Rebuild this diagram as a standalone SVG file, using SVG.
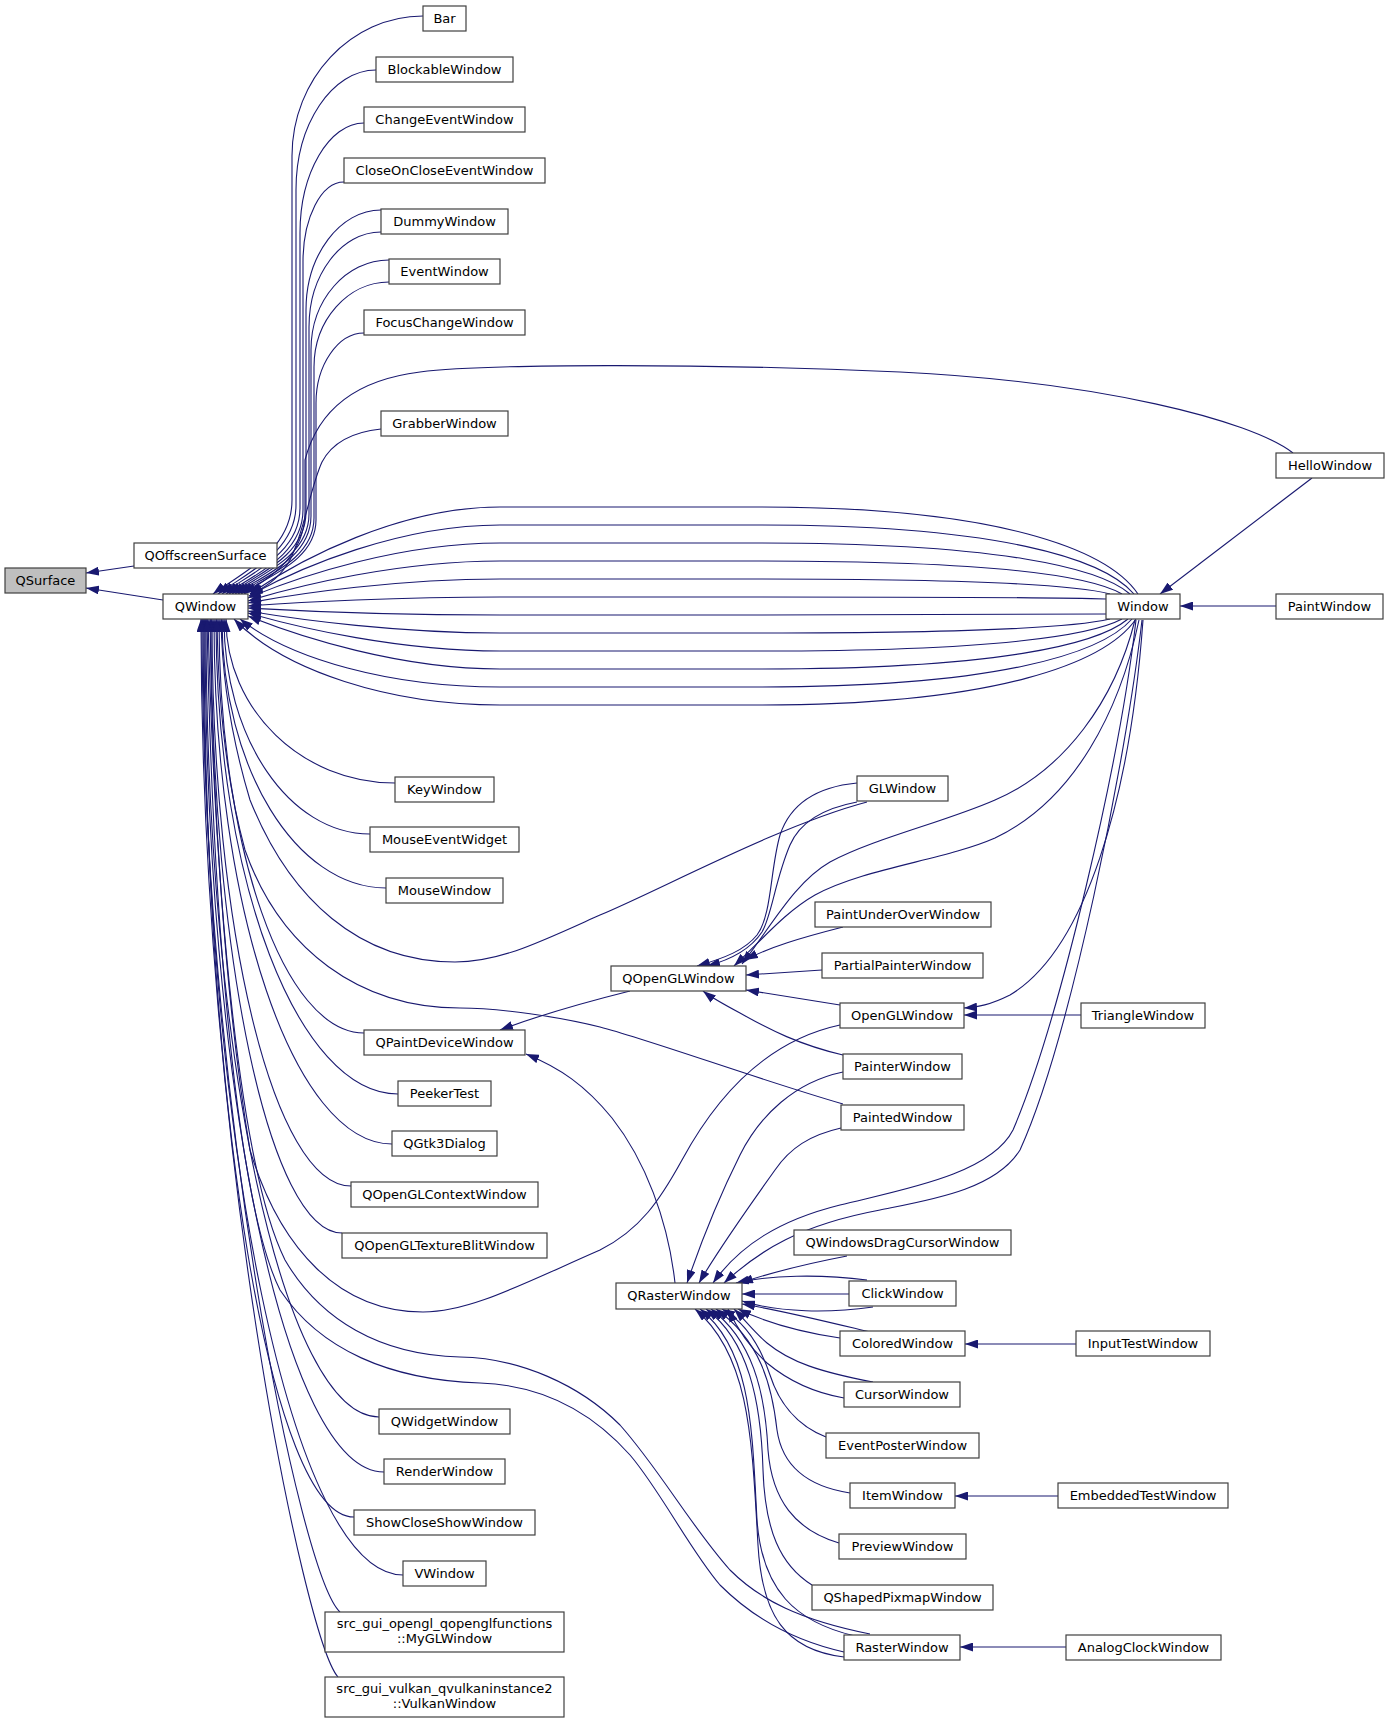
<svg xmlns="http://www.w3.org/2000/svg" width="1389" height="1723" viewBox="0 0 1389 1723">
<defs>
<marker id="a" markerUnits="userSpaceOnUse" markerWidth="13" markerHeight="9" refX="13" refY="4.5" orient="auto" viewBox="0 0 13 9"><path d="M0,0 L13,4.5 L0,9 z" fill="#191970"/></marker>
<style>
.n rect{fill:#ffffff;stroke:#404040;stroke-width:1.2}
.n text{font-family:"DejaVu Sans","Noto Sans",sans-serif;font-size:13px;text-anchor:middle;fill:#000}
#edges path{fill:none;stroke:#191970;stroke-width:1.1;marker-end:url(#a)}
</style>
</defs>
<rect width="1389" height="1723" fill="#ffffff"/>
<g id="edges">
<path d="M134,566 L86,573"/>
<path d="M163,600 L86,588"/>
<path d="M423,16 C351,16 292,79 292,156 L292,500 C292,552 238,575 213,594"/>
<path d="M376,70 C332,70 296,124 296,190 L296,505 C296,553 243,575 218,594"/>
<path d="M364,123 C329,123 300,173 300,233 L300,508 C300,555 247,575 222,594"/>
<path d="M344,182 C321,182 303,218 303,262 L303,510 C303,556 251,576 226,594"/>
<path d="M381,210 C340,210 306,255 306,310 L306,512 C306,557 254,576 229,594"/>
<path d="M381,232 C341,232 309,275 309,327 L309,514 C309,558 257,576 232,594"/>
<path d="M389,260 C346,260 311,300 311,350 L311,516 C311,559 260,577 235,594"/>
<path d="M389,282 C348,282 314,320 314,367 L314,518 C314,560 263,577 238,594"/>
<path d="M364,333 C338,333 316,365 316,403 L316,520 C316,561 266,577 241,594"/>
<path d="M1293,453 C1250,420 1100,382 900,372 C700,363 480,364 420,372 C355,380 318,410 305,460 L305,512 C305,557 269,578 244,594"/>
<path d="M381,429 C352,432 332,443 322,462 C310,488 305,530 290,560 C280,578 265,588 250,594"/>
<path d="M1138,594 C1108,550 1000,507 760,507 L500,507 C400,507 300,559 250,594"/>
<path d="M1134,594 C1104,559 1000,525 760,525 L500,525 C400,525 300,567 249,596"/>
<path d="M1130,594 C1100,568 1000,543 760,543 L500,543 C400,543 300,576 248,598"/>
<path d="M1122,594 C1092,577 1000,561 760,561 L500,561 C400,561 300,585 248,601"/>
<path d="M1110,594 C1080,586 1000,579 760,579 L500,579 C400,579 300,593 248,603"/>
<path d="M1106,599 C1076,598 1000,597 760,597 L500,597 C400,597 300,602 248,606"/>
<path d="M1106,614 C1076,614 1000,615 760,615 L500,615 C400,615 300,611 248,608"/>
<path d="M1110,619 C1080,626 1000,633 760,633 L500,633 C400,633 300,620 248,611"/>
<path d="M1122,619 C1092,635 1000,651 760,651 L500,651 C400,651 300,628 248,613"/>
<path d="M1128,619 C1098,644 1000,669 760,669 L500,669 C400,669 300,637 248,616"/>
<path d="M1132,619 C1102,653 1000,687 760,687 L500,687 C390,687 290,659 240,619"/>
<path d="M1136,619 C1106,662 1000,705 760,705 L500,705 C390,705 284,671 234,619"/>
<path d="M395,783 C302,783 226,710 226,619"/>
<path d="M370,834 C289,834 224,738 224,619"/>
<path d="M386,888 C296,888 222,768 222,619"/>
<path d="M364,1033 C284,1033 219,848 219,619"/>
<path d="M398,1094 C298,1094 216,881 216,619"/>
<path d="M392,1144 C294,1144 214,909 214,619"/>
<path d="M351,1186 C274,1186 212,932 212,619"/>
<path d="M342,1233 C270,1233 211,958 211,619"/>
<path d="M379,1417 C284,1417 206,1060 206,619"/>
<path d="M384,1472 C285,1472 205,1090 205,619"/>
<path d="M354,1517 C271,1517 204,1115 204,619"/>
<path d="M403,1575 C293,1575 203,1147 203,619"/>
<path d="M340,1612 C300,1575 202,1100 202,619"/>
<path d="M338,1677 C305,1640 201,1150 201,619"/>
<path d="M867,802 C780,825 660,890 600,915 C540,942 500,962 455,962 C360,962 290,900 250,800 C232,740 222,680 221,619"/>
<path d="M843,1104 C760,1080 650,1040 600,1027 C560,1017 500,1008 460,1008 C360,1008 280,950 245,850 C226,780 218,700 217,619"/>
<path d="M840,1025 C770,1040 720,1090 682,1160 C660,1200 640,1230 600,1250 C520,1285 470,1312 423,1312 C340,1312 280,1250 250,1150 C225,1000 212,800 210,619"/>
<path d="M870,1634 C800,1620 760,1600 730,1570 C690,1525 660,1470 620,1425 C580,1385 520,1358 460,1357 C380,1355 320,1320 285,1260 C240,1170 215,900 208,619"/>
<path d="M844,1652 C790,1640 750,1615 720,1585 C690,1550 660,1490 630,1455 C590,1410 540,1385 480,1383 C390,1380 320,1350 280,1290 C235,1200 212,900 207,619"/>
<path d="M630,991 C590,1001 540,1015 500,1030"/>
<path d="M675,1283 C668,1220 645,1160 612,1118 C585,1085 560,1068 526,1054"/>
<path d="M857,783 C815,787 790,805 780,835 C770,870 772,915 757,935 C745,950 725,958 697,966"/>
<path d="M857,802 C825,808 800,822 790,845 C775,880 772,915 762,932 C750,950 730,960 707,966"/>
<path d="M1135,620 C1115,700 1065,770 995,800 C945,822 875,838 830,862 C795,882 772,925 742,964"/>
<path d="M1139,620 C1120,710 1075,800 995,838 C945,860 865,868 815,895 C785,912 762,940 734,966"/>
<path d="M843,927 C800,938 770,947 745,960"/>
<path d="M822,970 L746,975"/>
<path d="M840,1005 L746,990"/>
<path d="M843,1055 C800,1045 770,1030 740,1013 C725,1005 712,998 703,991"/>
<path d="M1081,1015 L964,1015"/>
<path d="M1143,620 C1130,800 1085,950 1010,995 C990,1005 978,1007 964,1008"/>
<path d="M1312,478 L1160,594"/>
<path d="M1276,606 L1180,606"/>
<path d="M1136,620 C1120,760 1060,1020 1013,1130 C990,1175 900,1190 840,1205 C780,1220 740,1245 713,1283"/>
<path d="M1142,620 C1126,760 1070,1040 1020,1150 C995,1190 930,1200 880,1210 C800,1225 760,1250 724,1283"/>
<path d="M843,1072 C795,1082 760,1115 740,1155 C720,1195 700,1245 687,1283"/>
<path d="M841,1128 C810,1135 790,1148 775,1170 C745,1212 718,1250 699,1283"/>
<path d="M847,1256 C800,1265 770,1273 740,1283"/>
<path d="M867,1280 C820,1274 770,1275 736,1283"/>
<path d="M849,1294 L742,1294"/>
<path d="M873,1307 C830,1313 780,1313 742,1301"/>
<path d="M870,1332 C820,1320 780,1310 742,1304"/>
<path d="M840,1338 C800,1332 765,1322 738,1309"/>
<path d="M873,1382 C820,1372 790,1362 767,1343 C755,1333 745,1320 734,1309"/>
<path d="M844,1398 C810,1392 785,1378 767,1363 C750,1348 738,1330 728,1309"/>
<path d="M826,1437 C795,1425 778,1400 770,1375 C760,1345 745,1322 722,1309"/>
<path d="M850,1493 C805,1486 782,1465 777,1430 C772,1385 760,1340 716,1309"/>
<path d="M839,1543 C795,1530 772,1500 768,1450 C765,1390 752,1340 711,1309"/>
<path d="M812,1585 C780,1565 765,1530 763,1470 C761,1400 748,1340 706,1309"/>
<path d="M855,1636 C795,1622 762,1590 757,1520 C752,1430 752,1350 700,1309"/>
<path d="M844,1657 C785,1650 762,1615 758,1545 C752,1440 750,1355 695,1309"/>
<path d="M1076,1344 L965,1344"/>
<path d="M1058,1496 L955,1496"/>
<path d="M1066,1647 L960,1647"/>
</g>
<g id="n_QSurface" class="n"><rect x="5" y="568" width="81" height="25" style="fill:#bfbfbf"/><text x="45.5" y="585">QSurface</text></g>
<g id="n_QOffscreenSurface" class="n"><rect x="134" y="543" width="143" height="25"/><text x="205.5" y="560">QOffscreenSurface</text></g>
<g id="n_QWindow" class="n"><rect x="163" y="594" width="85" height="25"/><text x="205.5" y="611">QWindow</text></g>
<g id="n_Bar" class="n"><rect x="423" y="6" width="43" height="25"/><text x="444.5" y="23">Bar</text></g>
<g id="n_BlockableWindow" class="n"><rect x="376" y="57" width="137" height="25"/><text x="444.5" y="74">BlockableWindow</text></g>
<g id="n_ChangeEventWindow" class="n"><rect x="364" y="107" width="161" height="25"/><text x="444.5" y="124">ChangeEventWindow</text></g>
<g id="n_CloseOnCloseEventWindow" class="n"><rect x="344" y="158" width="201" height="25"/><text x="444.5" y="175">CloseOnCloseEventWindow</text></g>
<g id="n_DummyWindow" class="n"><rect x="381" y="209" width="127" height="25"/><text x="444.5" y="226">DummyWindow</text></g>
<g id="n_EventWindow" class="n"><rect x="389" y="259" width="111" height="25"/><text x="444.5" y="276">EventWindow</text></g>
<g id="n_FocusChangeWindow" class="n"><rect x="364" y="310" width="161" height="25"/><text x="444.5" y="327">FocusChangeWindow</text></g>
<g id="n_GrabberWindow" class="n"><rect x="381" y="411" width="127" height="25"/><text x="444.5" y="428">GrabberWindow</text></g>
<g id="n_KeyWindow" class="n"><rect x="395" y="777" width="99" height="25"/><text x="444.5" y="794">KeyWindow</text></g>
<g id="n_MouseEventWidget" class="n"><rect x="370" y="827" width="149" height="25"/><text x="444.5" y="844">MouseEventWidget</text></g>
<g id="n_MouseWindow" class="n"><rect x="386" y="878" width="117" height="25"/><text x="444.5" y="895">MouseWindow</text></g>
<g id="n_QPaintDeviceWindow" class="n"><rect x="364" y="1030" width="161" height="25"/><text x="444.5" y="1047">QPaintDeviceWindow</text></g>
<g id="n_PeekerTest" class="n"><rect x="398" y="1081" width="93" height="25"/><text x="444.5" y="1098">PeekerTest</text></g>
<g id="n_QGtk3Dialog" class="n"><rect x="392" y="1131" width="105" height="25"/><text x="444.5" y="1148">QGtk3Dialog</text></g>
<g id="n_QOpenGLContextWindow" class="n"><rect x="351" y="1182" width="187" height="25"/><text x="444.5" y="1199">QOpenGLContextWindow</text></g>
<g id="n_QOpenGLTextureBlitWindow" class="n"><rect x="342" y="1233" width="205" height="25"/><text x="444.5" y="1250">QOpenGLTextureBlitWindow</text></g>
<g id="n_QWidgetWindow" class="n"><rect x="379" y="1409" width="131" height="25"/><text x="444.5" y="1426">QWidgetWindow</text></g>
<g id="n_RenderWindow" class="n"><rect x="384" y="1459" width="121" height="25"/><text x="444.5" y="1476">RenderWindow</text></g>
<g id="n_ShowCloseShowWindow" class="n"><rect x="354" y="1510" width="181" height="25"/><text x="444.5" y="1527">ShowCloseShowWindow</text></g>
<g id="n_VWindow" class="n"><rect x="403" y="1561" width="83" height="25"/><text x="444.5" y="1578">VWindow</text></g>
<g id="n_MyGLWindow" class="n"><rect x="325" y="1612" width="239" height="40"/><text x="444.5" y="1628">src_gui_opengl_qopenglfunctions</text><text x="444.5" y="1643">::MyGLWindow</text></g>
<g id="n_VulkanWindow" class="n"><rect x="325" y="1677" width="239" height="40"/><text x="444.5" y="1693">src_gui_vulkan_qvulkaninstance2</text><text x="444.5" y="1708">::VulkanWindow</text></g>
<g id="n_QOpenGLWindow" class="n"><rect x="611" y="966" width="135" height="25"/><text x="678.5" y="983">QOpenGLWindow</text></g>
<g id="n_QRasterWindow" class="n"><rect x="616" y="1283" width="126" height="26"/><text x="679" y="1300">QRasterWindow</text></g>
<g id="n_GLWindow" class="n"><rect x="857" y="776" width="91" height="25"/><text x="902.5" y="793">GLWindow</text></g>
<g id="n_PaintUnderOverWindow" class="n"><rect x="815" y="902" width="176" height="25"/><text x="903" y="919">PaintUnderOverWindow</text></g>
<g id="n_PartialPainterWindow" class="n"><rect x="822" y="953" width="161" height="25"/><text x="902.5" y="970">PartialPainterWindow</text></g>
<g id="n_OpenGLWindow" class="n"><rect x="840" y="1003" width="124" height="25"/><text x="902" y="1020">OpenGLWindow</text></g>
<g id="n_PainterWindow" class="n"><rect x="843" y="1054" width="119" height="25"/><text x="902.5" y="1071">PainterWindow</text></g>
<g id="n_PaintedWindow" class="n"><rect x="841" y="1105" width="123" height="25"/><text x="902.5" y="1122">PaintedWindow</text></g>
<g id="n_QWindowsDragCursorWindow" class="n"><rect x="794" y="1230" width="217" height="25"/><text x="902.5" y="1247">QWindowsDragCursorWindow</text></g>
<g id="n_ClickWindow" class="n"><rect x="849" y="1281" width="107" height="25"/><text x="902.5" y="1298">ClickWindow</text></g>
<g id="n_ColoredWindow" class="n"><rect x="840" y="1331" width="125" height="25"/><text x="902.5" y="1348">ColoredWindow</text></g>
<g id="n_CursorWindow" class="n"><rect x="844" y="1382" width="116" height="25"/><text x="902" y="1399">CursorWindow</text></g>
<g id="n_EventPosterWindow" class="n"><rect x="826" y="1433" width="153" height="25"/><text x="902.5" y="1450">EventPosterWindow</text></g>
<g id="n_ItemWindow" class="n"><rect x="850" y="1483" width="105" height="25"/><text x="902.5" y="1500">ItemWindow</text></g>
<g id="n_PreviewWindow" class="n"><rect x="839" y="1534" width="127" height="25"/><text x="902.5" y="1551">PreviewWindow</text></g>
<g id="n_QShapedPixmapWindow" class="n"><rect x="812" y="1585" width="181" height="25"/><text x="902.5" y="1602">QShapedPixmapWindow</text></g>
<g id="n_RasterWindow" class="n"><rect x="844" y="1635" width="116" height="25"/><text x="902" y="1652">RasterWindow</text></g>
<g id="n_Window" class="n"><rect x="1106" y="594" width="74" height="25"/><text x="1143" y="611">Window</text></g>
<g id="n_TriangleWindow" class="n"><rect x="1081" y="1003" width="124" height="25"/><text x="1143" y="1020">TriangleWindow</text></g>
<g id="n_InputTestWindow" class="n"><rect x="1076" y="1331" width="134" height="25"/><text x="1143" y="1348">InputTestWindow</text></g>
<g id="n_EmbeddedTestWindow" class="n"><rect x="1058" y="1483" width="170" height="25"/><text x="1143" y="1500">EmbeddedTestWindow</text></g>
<g id="n_AnalogClockWindow" class="n"><rect x="1066" y="1635" width="155" height="25"/><text x="1143.5" y="1652">AnalogClockWindow</text></g>
<g id="n_HelloWindow" class="n"><rect x="1276" y="453" width="108" height="25"/><text x="1330" y="470">HelloWindow</text></g>
<g id="n_PaintWindow" class="n"><rect x="1276" y="594" width="107" height="25"/><text x="1329.5" y="611">PaintWindow</text></g>
</svg>
